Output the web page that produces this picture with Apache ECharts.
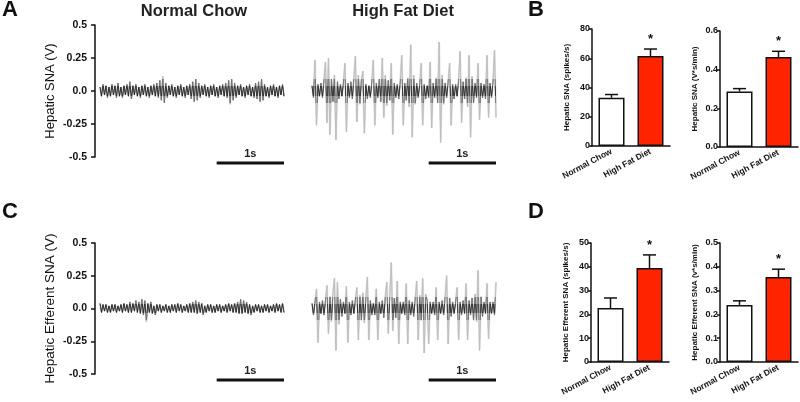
<!DOCTYPE html>
<html><head><meta charset="utf-8">
<script src="https://cdn.jsdelivr.net/npm/echarts@6/dist/echarts.min.js"></script>
<style>html,body{margin:0;padding:0;background:#fff}#c{width:800px;height:402px}</style>
</head><body><div id="c"></div>
<script>
// ---------- data ----------
const groups = ['Normal Chow', 'High Fat Diet'];
const traceTickLabels = ['-0.5', '-0.25', '0.0', '0.25', '0.5'];
const traceTickValues = [-0.5, -0.25, 0, 0.25, 0.5];

// Hepatic SNA raw traces (V)
const hepNC = [
0.03,-0.04,0.05,-0.03,0.04,-0.05,0.03,-0.04,0.05,-0.03,
0.04,-0.05,0.06,-0.04,0.03,-0.05,0.04,-0.03,0.05,-0.04,
0.07,-0.06,0.04,-0.03,0.05,-0.04,0.03,-0.05,0.04,-0.03,
0.05,-0.04,0.03,-0.05,0.04,-0.03,0.05,-0.04,0.06,-0.05,
0.08,-0.07,0.11,-0.09,0.06,-0.05,0.04,-0.03,0.05,-0.04,
0.03,-0.05,0.04,-0.03,0.05,-0.04,0.03,-0.05,0.04,-0.03,
0.05,-0.06,0.07,-0.08,0.09,-0.07,0.06,-0.05,0.04,-0.03,
0.05,-0.04,0.03,-0.05,0.04,-0.03,0.05,-0.04,0.03,-0.05,
0.04,-0.03,0.05,-0.04,0.06,-0.05,0.08,-0.1,0.09,-0.07,
0.06,-0.05,0.04,-0.03,0.05,-0.04,0.03,-0.05,0.04,-0.03,
0.05,-0.04,0.03,-0.05,0.06,-0.06,0.07,-0.08,0.09,-0.07,
0.05,-0.04,0.03,-0.05,0.04,-0.03,0.05,-0.04,0.03,-0.05,
0.04,-0.03,0.05,-0.04];
const hepHFD = [
0.04,-0.05,0.235,-0.26,0.05,-0.04,0.06,-0.05,0.08,0.22,
-0.24,0.25,-0.33,0.09,-0.08,0.12,-0.37,0.07,-0.06,0.05,
-0.04,0.06,0.21,-0.31,0.06,-0.05,0.07,-0.06,0.1,0.265,
-0.235,0.12,-0.1,0.08,0.15,-0.32,0.05,-0.06,0.04,-0.05,
0.07,0.235,-0.26,0.06,-0.05,0.09,-0.08,0.25,-0.2,0.12,
-0.11,0.08,-0.07,0.21,-0.33,0.06,-0.05,0.05,-0.06,0.07,
0.27,-0.26,0.06,-0.07,0.1,-0.12,0.35,-0.35,0.12,-0.1,
0.06,-0.05,0.05,0.21,-0.26,0.05,-0.06,0.04,-0.05,0.22,
-0.28,0.06,-0.05,0.1,-0.09,0.37,-0.39,0.12,-0.1,0.06,
-0.05,0.07,0.21,-0.26,0.05,-0.06,0.05,-0.04,0.08,0.3,
-0.24,0.07,-0.06,0.1,-0.12,0.27,-0.35,0.11,-0.09,0.06,
-0.05,0.21,-0.22,0.06,-0.05,0.05,-0.06,0.27,-0.2,0.06,
-0.05,0.07,0.31,-0.2];
// Hepatic efferent SNA raw traces (V)
const effNC = [
0.04,-0.03,0.03,-0.02,0.03,-0.03,0.02,-0.03,0.03,-0.02,
0.03,-0.03,0.02,-0.02,0.03,-0.03,0.04,-0.02,0.03,-0.03,
0.05,-0.03,0.04,-0.02,0.06,-0.03,0.05,-0.04,0.07,-0.05,
0.06,-0.1,0.04,-0.03,0.05,-0.04,0.02,-0.05,0.03,-0.02,
0.03,-0.03,0.02,-0.02,0.03,-0.03,0.02,-0.03,0.03,-0.02,
0.03,-0.03,0.04,-0.02,0.03,-0.03,0.02,-0.02,0.03,-0.03,
0.04,-0.03,0.05,-0.03,0.06,-0.04,0.05,-0.03,0.04,-0.05,
0.02,-0.03,0.03,-0.02,0.03,-0.03,0.02,-0.03,0.03,-0.02,
0.03,-0.03,0.02,-0.02,0.03,-0.03,0.04,-0.02,0.03,-0.03,
0.04,-0.03,0.05,-0.04,0.07,-0.04,0.06,-0.03,0.05,-0.04,
0.03,-0.05,0.02,-0.03,0.03,-0.02,0.03,-0.03,0.02,-0.03,
0.03,-0.02,0.03,-0.03,0.02,-0.02,0.03,-0.03,0.04,-0.02,
0.03,-0.03,0.04,-0.03];
const effHFD = [
0.04,-0.05,0.05,0.15,-0.26,0.05,-0.04,0.06,-0.05,0.06,
0.175,-0.19,0.09,-0.1,0.12,0.23,-0.32,0.2,-0.12,0.07,
-0.06,0.05,-0.04,0.17,-0.26,0.05,-0.05,0.06,-0.04,0.07,
0.16,-0.24,0.1,-0.09,0.12,-0.11,0.08,0.24,-0.24,0.06,
-0.05,0.04,-0.05,0.15,-0.24,0.05,-0.04,0.06,-0.07,0.09,
0.2,-0.19,0.1,0.35,-0.17,0.08,-0.07,0.21,-0.27,0.05,
-0.04,0.05,-0.05,0.19,-0.27,0.06,-0.05,0.05,-0.06,0.08,
0.21,-0.24,0.1,-0.09,0.23,-0.34,0.11,0.06,-0.27,0.05,
-0.04,0.05,-0.05,0.16,-0.24,0.05,-0.04,0.06,-0.05,0.09,
0.25,-0.27,0.08,-0.06,0.05,-0.04,0.05,0.16,-0.24,0.05,
-0.05,0.06,-0.04,0.19,-0.24,0.06,-0.05,0.08,-0.09,0.11,
-0.1,0.29,-0.32,0.09,-0.06,0.05,-0.04,0.19,-0.23,0.05,
-0.04,0.05,-0.05,0.2];
const samplesPerSecond = 44.8;
const scaleBarSeconds = 1;

// Bar summaries: mean and SEM for [Normal Chow, High Fat Diet]
const bSpikesMean = [33, 61.5],  bSpikesSem = [2.2, 4.8];
const bAreaMean   = [0.287, 0.465], bAreaSem = [0.015, 0.03];
const dSpikesMean = [22.7, 39.5], dSpikesSem = [4.2, 5.5];
const dAreaMean   = [0.24, 0.357], dAreaSem = [0.017, 0.033];
const significant = [false, true];

// ---------- styling ----------
const FONT = '"Liberation Sans", Arial, sans-serif';
const BLACK = '#111';
const RED = '#ff2400';

const chart = echarts.init(document.getElementById('c'), null, {renderer: 'canvas'});

const traceGrids = [
  {left: 100, top: 25, width: 184, height: 132},
  {left: 312, top: 25, width: 184, height: 132},
  {left: 100, top: 243, width: 184, height: 131},
  {left: 312, top: 243, width: 184, height: 131}
];
const barGrids = [
  {left: 592, top: 29, width: 78, height: 117},
  {left: 720, top: 31, width: 78, height: 116},
  {left: 591, top: 243, width: 78, height: 119},
  {left: 720, top: 243, width: 78, height: 119}
];
const grids = traceGrids.concat(barGrids);

const xAxes = [], yAxes = [], series = [];
const traces = [hepNC, hepHFD, effNC, effHFD];
const traceNames = ['Hepatic SNA (V)', null, 'Hepatic Efferent SNA (V)', null];
const mainTraceSeries = [];
traces.forEach((d, i) => {
  xAxes.push({gridIndex: i, type: 'category', show: false, boundaryGap: false,
    data: d.map((_, k) => k)});
  const visible = traceNames[i] !== null;
  yAxes.push({gridIndex: i, type: 'value', min: -0.5, max: 0.5, interval: 0.25,
    show: visible, offset: 5,
    name: traceNames[i] || '', nameLocation: 'middle', nameGap: 38,
    nameTextStyle: {fontFamily: FONT, fontSize: i === 0 ? 13 : 13.5, color: BLACK},
    axisLine: {show: true, lineStyle: {color: BLACK, width: 1.5}},
    axisTick: {show: true, length: 4, lineStyle: {color: BLACK, width: 1.5}},
    axisLabel: {fontFamily: FONT, fontSize: 10.5, fontWeight: 'bold', color: BLACK, margin: 8,
      formatter: v => {
        const k = traceTickValues.findIndex(t => Math.abs(t - v) < 1e-9);
        return k >= 0 ? traceTickLabels[k] : '';
      }},
    splitLine: {show: false}});
  // soft haze underneath
  series.push({type: 'line', xAxisIndex: i, yAxisIndex: i, data: d, showSymbol: false,
    symbol: 'none', sampling: null, silent: true, z: 1,
    lineStyle: {color: '#9a9a9a', width: 2.2, opacity: 0.22}});
  mainTraceSeries.push(series.length);
  series.push({type: 'line', xAxisIndex: i, yAxisIndex: i, data: d, showSymbol: false,
    symbol: 'none', sampling: null, silent: true, z: 2,
    lineStyle: {width: 0.8, opacity: 0.9}});
});

const bars = [
  {mean: bSpikesMean, sem: bSpikesSem, max: 80, interval: 20, dec: 0, name: 'Hepatic SNA (spikes/s)'},
  {mean: bAreaMean, sem: bAreaSem, max: 0.6, interval: 0.2, dec: 1, name: 'Hepatic SNA (V*s/min)'},
  {mean: dSpikesMean, sem: dSpikesSem, max: 50, interval: 10, dec: 0, name: 'Hepatic Efferent SNA (spikes/s)'},
  {mean: dAreaMean, sem: dAreaSem, max: 0.5, interval: 0.1, dec: 1, name: 'Hepatic Efferent SNA (v*s/min)'}
];
bars.forEach((b, j) => {
  const gi = 4 + j;
  xAxes.push({gridIndex: gi, type: 'category', data: groups,
    axisLine: {lineStyle: {color: BLACK, width: 1.5}}, axisTick: {show: false},
    axisLabel: {rotate: 28, interval: 0, margin: 5, fontFamily: FONT, fontSize: 8.5,
      fontWeight: 'bold', color: BLACK}});
  yAxes.push({gridIndex: gi, type: 'value', min: 0, max: b.max, interval: b.interval,
    name: b.name, nameLocation: 'middle', nameGap: 21,
    nameTextStyle: {fontFamily: FONT, fontSize: 8, fontWeight: 'bold', color: BLACK},
    axisLine: {show: true, lineStyle: {color: BLACK, width: 1.5}},
    axisTick: {show: true, length: 3, lineStyle: {color: BLACK, width: 1.5}},
    axisLabel: {fontFamily: FONT, fontSize: 9, fontWeight: 'bold', color: BLACK, margin: 2,
      formatter: v => v.toFixed(b.dec)},
    splitLine: {show: false}});
  series.push({type: 'bar', xAxisIndex: gi, yAxisIndex: gi, barWidth: 26, silent: true,
    data: b.mean.map((m, k) => ({value: m, itemStyle: {color: k === 0 ? '#fff' : RED}})),
    itemStyle: {borderColor: BLACK, borderWidth: 1.5}});
  series.push({type: 'custom', xAxisIndex: gi, yAxisIndex: gi, silent: true, z: 5,
    data: b.mean.map((m, k) => [k, m, m + b.sem[k], significant[k] ? 1 : 0]),
    renderItem: (params, api) => {
      const base = api.coord([api.value(0), api.value(1)]);
      const top = api.coord([api.value(0), api.value(2)]);
      const half = 6.5;
      const children = [
        {type: 'line', shape: {x1: base[0], y1: base[1], x2: top[0], y2: top[1]},
          style: {stroke: BLACK, lineWidth: 1.5}},
        {type: 'line', shape: {x1: top[0] - half, y1: top[1], x2: top[0] + half, y2: top[1]},
          style: {stroke: BLACK, lineWidth: 1.5}}
      ];
      if (api.value(3)) {
        children.push({type: 'text', x: top[0], y: top[1] - 3,
          style: {text: '*', fill: BLACK, font: 'bold 13px ' + FONT, textAlign: 'center', textVerticalAlign: 'bottom'}});
      }
      return {type: 'group', children};
    }});
});

const letter = (t, x, y) => ({type: 'text', x, y,
  style: {text: t, font: 'bold 22px ' + FONT, fill: BLACK, textVerticalAlign: 'top'}});
const title = (t, x, y) => ({type: 'text', x, y,
  style: {text: t, font: 'bold 16.5px ' + FONT, fill: '#222', textAlign: 'center', textVerticalAlign: 'top'}});

chart.setOption({
  animation: false,
  backgroundColor: '#fff',
  grid: grids.map(g => Object.assign({containLabel: false}, g)),
  xAxis: xAxes, yAxis: yAxes, series,
  visualMap: [{
    type: 'piecewise', show: false, dimension: 1, seriesIndex: mainTraceSeries,
    pieces: [
      {lt: -0.09, color: '#bdbdbd'},
      {gte: -0.09, lt: -0.035, color: '#6e6e6e'},
      {gte: -0.035, lte: 0.035, color: '#262626'},
      {gt: 0.035, lte: 0.09, color: '#6e6e6e'},
      {gt: 0.09, color: '#bdbdbd'}
    ]
  }]
});

// scale bars (1 s), placed through the trace grids' own scales
const gfx = [
  letter('A', 2, -1), letter('B', 528, -1), letter('C', 2, 201), letter('D', 528, 201),
  title('Normal Chow', 194, 3), title('High Fat Diet', 403, 3)
];
[0, 1, 2, 3].forEach(i => {
  const n = traces[i].length - 1;
  const p1 = chart.convertToPixel({gridIndex: i}, [n - scaleBarSeconds * samplesPerSecond, -0.5]);
  const p2 = chart.convertToPixel({gridIndex: i}, [n, -0.5]);
  const y = p1[1] + 6;
  gfx.push({type: 'line', shape: {x1: p1[0], y1: y, x2: p2[0], y2: y},
    style: {stroke: '#111', lineWidth: 3}});
  gfx.push({type: 'text', x: (p1[0] + p2[0]) / 2, y: y - 4,
    style: {text: scaleBarSeconds + 's', font: 'bold 11px ' + FONT, fill: '#222',
      textAlign: 'center', textVerticalAlign: 'bottom'}});
});
chart.setOption({graphic: gfx});
</script></body></html>
